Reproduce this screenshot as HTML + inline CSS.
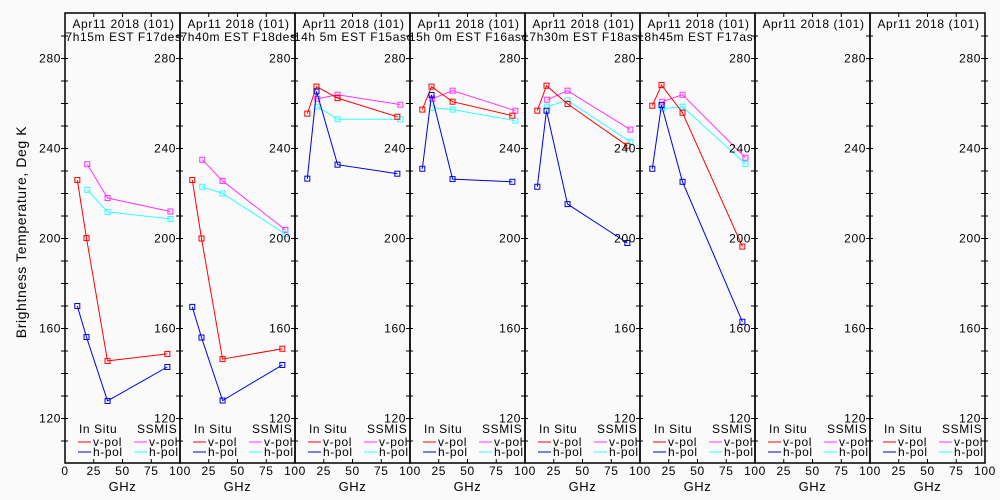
<!DOCTYPE html>
<html><head><meta charset="utf-8"><style>
html,body{margin:0;padding:0;background:#fafafa;}
svg{display:block;font-family:"Liberation Sans",sans-serif;}
text{letter-spacing:0.6px;}
</style></head><body>
<svg id="chart" width="1000" height="500" viewBox="0 0 1000 500" xmlns="http://www.w3.org/2000/svg">
<rect x="0" y="0" width="1000" height="500" fill="#fafafa"/>
<text x="26" y="232" font-size="14" text-anchor="middle" transform="rotate(-90 26 232)" fill="#000">Brightness Temperature, Deg K</text>
</svg>
<script>
const titles1 = ["Apr11 2018 (101)","Apr11 2018 (101)","Apr11 2018 (101)","Apr11 2018 (101)","Apr11 2018 (101)","Apr11 2018 (101)","Apr11 2018 (101)","Apr11 2018 (101)"];
const titles2 = ["7h15m EST F17des","7h40m EST F18des","14h 5m EST F15asc","15h 0m EST F16asc","17h30m EST F18asc","18h45m EST F17asc","",""];
const insituFreq = [10.7, 18.7, 37, 89];
const ssmisFreq = [19.35, 37, 91.65];
const insituV = [
 [226,200.2,145.6,148.7],[226,200,146.4,151],[255.5,267.5,262.4,254.1],[257.3,267.5,260.8,254.6],
 [256.8,267.9,259.8,241.2],[259,268.2,255.9,196.4],null,null];
const insituH = [
 [170,156.2,127.8,142.9],[169.6,156,128,143.8],[226.6,265.4,232.8,228.8],[231,263.8,226.4,225.2],
 [223,256.8,215.3,198],[231,259.3,225.2,163],null,null];
const ssmisV = [
 [233,218,212],[235,225.6,203.8],[262.1,263.9,259.5],[262.1,265.7,256.8],
 [261.7,265.7,248.4],[260.8,263.9,235.9],null,null];
const ssmisH = [
 [221.6,211.8,208.7],[223,220,202],[258.6,253,253],[258.1,257.3,252.4],
 [258.6,261.4,243],[257.7,258.6,233.2],null,null];
const yTicks = [120,160,200,240,280];
const xTickLabels = [25,50,75];

const NS="http://www.w3.org/2000/svg";
const svg=document.getElementById('chart');
const P0=65, PW=115, TOP=13, BOT=463;
function yS(t){return 58.5+(280-t)*2.25;}
function xS(p,f){return P0+p*PW+f*1.15;}
function mk(tag,attrs,parent){const e=document.createElementNS(NS,tag);for(const k in attrs)e.setAttribute(k,attrs[k]);(parent||svg).appendChild(e);return e;}

const defs=mk('defs',{});
for(let p=0;p<8;p++){
  const cp=mk('clipPath',{id:'cp'+p},defs);
  mk('rect',{x:P0+p*PW,y:TOP,width:PW,height:BOT-TOP},cp);
}

function series(p,freqs,vals,color,name){
  const g=mk('g',{'clip-path':'url(#cp'+p+')'});
  
  
  const pts=freqs.map((f,i)=>xS(p,f).toFixed(1)+','+yS(vals[i]).toFixed(1)).join(' ');
  const pl=mk('polyline',{points:pts,fill:'none',stroke:color,'stroke-width':1},g);
  
  
  freqs.forEach((f,i)=>{
    const r=mk('rect',{x:xS(p,f)-2.5,y:yS(vals[i])-2.5,width:5,height:5,fill:'none',stroke:color,'stroke-width':1},g);
    
    
  });
}

for(let p=0;p<8;p++){
  const L=P0+p*PW;
  const g=mk('g',{});
  
  
  mk('rect',{x:L,y:TOP,width:PW,height:BOT-TOP,fill:'none',stroke:'#000','stroke-width':1.5},g);
  xTickLabels.forEach(v=>{
    const x=xS(p,v);
    mk('line',{x1:x,y1:TOP,x2:x,y2:TOP+4,stroke:'#000'},g);
    mk('line',{x1:x,y1:BOT,x2:x,y2:BOT-4,stroke:'#000'},g);
    const t=mk('text',{x:x,y:475,'font-size':12,'text-anchor':'middle',fill:'#000'},g);
    t.textContent=v;
    
    
  });
  const tl=mk('text',{x:L+PW,y:475,'font-size':12,'text-anchor':'middle',fill:'#000'},g);
  tl.textContent='100';
  
  
  if(p===0){const t0=mk('text',{x:L,y:475,'font-size':12,'text-anchor':'middle',fill:'#000'},g);t0.textContent='0';
    
    }
  const gx=mk('text',{x:L+PW/2,y:491,'font-size':13,'text-anchor':'middle',fill:'#000'},g);
  gx.textContent='GHz';
  
  
  const cg=mk('g',{'clip-path':'url(#cp'+p+')'},g);
  const t1=mk('text',{x:L+PW/2+1,y:28,'font-size':12,'text-anchor':'middle',fill:'#000'},cg);
  t1.textContent=titles1[p];
  
  
  const t2=mk('text',{x:L+PW/2+1,y:41,'font-size':12,'text-anchor':'middle',fill:'#000'},cg);
  t2.textContent=titles2[p];
  
  
  const lg=mk('g',{},g);
  
  
  const a=mk('text',{x:L+14,y:433,'font-size':12,fill:'#000'},lg);a.textContent='In Situ';
  const b=mk('text',{x:L+72,y:433,'font-size':12,fill:'#000'},lg);b.textContent='SSMIS';
  [['v-pol','#ff0000','#ff33ff',446],['h-pol','#0000dd','#33ffff',456]].forEach(r=>{
    mk('line',{x1:L+13,y1:r[3]-4,x2:L+26,y2:r[3]-4,stroke:r[1]},lg);
    const t=mk('text',{x:L+28,y:r[3],'font-size':12,fill:'#000'},lg);t.textContent=r[0];
    
    
    mk('line',{x1:L+69,y1:r[3]-4,x2:L+82,y2:r[3]-4,stroke:r[2]},lg);
    const t2=mk('text',{x:L+84,y:r[3],'font-size':12,fill:'#000'},lg);t2.textContent=r[0];
    
    
  });
  if(insituV[p]){
    series(p,ssmisFreq,ssmisV[p],'#ff33ff','ssmis-vpol-'+(p+1));
    series(p,ssmisFreq,ssmisH[p],'#33ffff','ssmis-hpol-'+(p+1));
    series(p,insituFreq,insituV[p],'#ff0000','insitu-vpol-'+(p+1));
    series(p,insituFreq,insituH[p],'#0000dd','insitu-hpol-'+(p+1));
  }
}
for(let b=0;b<=8;b++){
  const X=P0+b*PW;
  for(let v=110;v<=290;v+=10){
    const y=yS(v);
    mk('line',{x1:X-4,y1:y,x2:X+3,y2:y,stroke:'#000'});
  }
  yTicks.forEach(v=>{
    const t=mk('text',{x:X-4,y:yS(v)+4,'font-size':12,'text-anchor':'end',fill:'#000'});
    t.textContent=v;
    
    
  });
}
</script>
</body></html>
